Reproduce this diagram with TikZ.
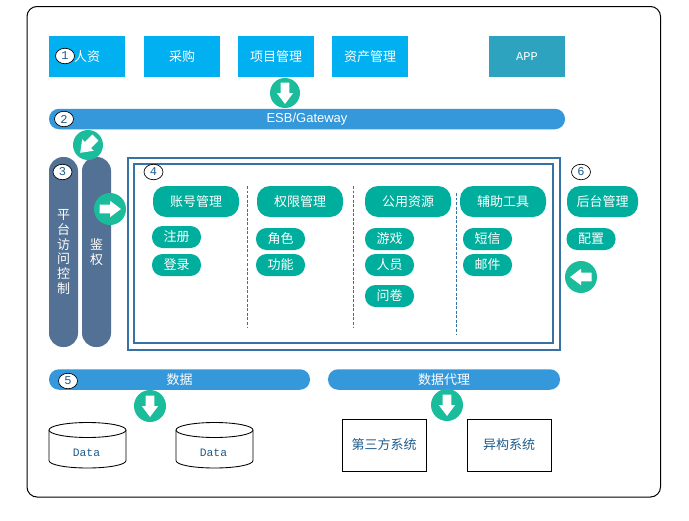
\documentclass[tikz,border=0pt]{standalone}
\usepackage{fontspec}
\setmainfont{Liberation Sans}
\newfontfamily\cjk{Noto Sans CJK SC}
\newfontfamily\monof{Liberation Mono}
\usetikzlibrary{shapes.geometric}
\definecolor{skyc}{HTML}{00B0F0}
\definecolor{appc}{HTML}{2EA3C0}
\definecolor{barc}{HTML}{3498DB}
\definecolor{iconc}{HTML}{1ABC9C}
\definecolor{tealc}{HTML}{00AE9D}
\definecolor{slatec}{HTML}{527194}
\definecolor{framec}{HTML}{3672A3}
\definecolor{inkc}{HTML}{1F5C8C}
\def\px{0.75pt}
\tikzset{
  x=0.75pt,y=-0.75pt,
  base/.style={inner sep=0pt,outer sep=0pt,font=\cjk\fontsize{9.75}{11}\selectfont},
  topbox/.style={base,fill=skyc,text=white,minimum width=76*\px,minimum height=41*\px},
  appbox/.style={topbox,fill=appc,font=\monof\fontsize{9}{10}\selectfont},
  busbar/.style={base,fill=barc,text=white,rounded corners=10*\px,minimum height=20.5*\px},
  sidebar/.style={base,fill=slatec,text=white,rounded corners=14*\px,minimum width=29*\px,minimum height=190*\px,align=center},
  head/.style={base,fill=tealc,text=white,rounded corners=13*\px,minimum width=86*\px,minimum height=31*\px},
  pill/.style={base,fill=tealc,text=white,rounded corners=10.5*\px,minimum width=49*\px,minimum height=22*\px},
  numc/.style={ellipse,draw=black,line width=0.5pt,fill=white,text=inkc,inner sep=0pt,minimum width=19*\px,minimum height=15.5*\px,font=\monof\fontsize{9}{10}\selectfont},
  iconbg/.style={circle,fill=iconc,inner sep=0pt,outer sep=0pt},
  sysbox/.style={base,draw=black,line width=0.75pt,fill=white,text=inkc,minimum width=84*\px,minimum height=52*\px},
  dbtext/.style={base,text=inkc,font=\monof\fontsize{8.5}{10}\selectfont},
  divider/.style={draw=framec,line width=0.6pt,dash pattern=on 2.2pt off 1.2pt},
  dblframe/.style={draw=framec,line width=1.5pt},
}
% name, x, y, rotation of a white arrow that points down before rotation, diameter
\newcommand{\arrowicon}[5]{%
  \node[iconbg,minimum size=#5*\px] (#1) at (#2,#3) {};
  \begin{scope}[shift={(#2,#3)},rotate=#4]
    \fill[white] (-4.3,-10.5) -- (4.3,-10.5) -- (4.3,0) -- (8.2,0) -- (0,11) -- (-8.2,0) -- (-4.3,0) -- cycle;
  \end{scope}}
% name, left x
\newcommand{\dbcyl}[2]{%
  \draw[black,line width=0.65pt,fill=white]
    (#2,430) -- (#2,460.5)
    .. controls (#2,465) and ({#2+18},468) .. ({#2+38.5},468)
    .. controls ({#2+59},468) and ({#2+77},465) .. ({#2+77},460.5)
    -- ({#2+77},430);
  \draw[black,line width=0.65pt,fill=white] ({#2+38.5},430) ellipse [x radius=38.5,y radius=7.5];
  \node[dbtext] (#1) at ({#2+37.5},453) {Data};}
\begin{document}
\begin{tikzpicture}
\useasboundingbox (0,0) rectangle (689,521);
\fill[white] (0,0) rectangle (689,521);
\draw[black,line width=0.75pt,rounded corners=7.5pt] (27,6.5) rectangle (660.5,497);

% top row
\node[topbox] (hr) at (87,56.5) {人资};
\node[topbox] (buy) at (182,56.5) {采购};
\node[topbox] (proj) at (276,56.5) {项目管理};
\node[topbox] (asset) at (370,56.5) {资产管理};
\node[appbox] (app) at (527,56.5) {APP};

% gateway
\node[busbar,minimum width=516*\px] (esb) at (307,119) {\raisebox{-1.2pt}{\fontspec{Liberation Sans}ESB/Gateway}};

% side bars
\node[sidebar] (acl) at (63.5,252) {平\\台\\访\\问\\控\\制};
\node[sidebar] (auth) at (96.5,252) {鉴\\权};

% core frame
\draw[dblframe] (127.5,157.5) rectangle (560,350);
\draw[dblframe] (133.5,163.5) rectangle (553,343);

% columns
\node[head] (acct) at (196,201.5) {账号管理};
\node[pill] (reg) at (176.5,237) {注册};
\node[pill] (login) at (176.5,265) {登录};
\node[head] (perm) at (300,201.5) {权限管理};
\node[pill] (role) at (280.5,239) {角色};
\node[pill] (func) at (280.5,265) {功能};
\node[head] (pub) at (408,201.5) {公用资源};
\node[pill] (game) at (389.5,239) {游戏};
\node[pill] (staff) at (389.5,265) {人员};
\node[pill] (quiz) at (389.5,296) {问卷};
\node[head] (tool) at (503,201.5) {辅助工具};
\node[pill] (sms) at (487.5,239) {短信};
\node[pill] (mail) at (487.5,265) {邮件};
\node[head,minimum width=71*\px] (admin) at (602.5,201.5) {后台管理};
\node[pill] (conf) at (591,239) {配置};

\coordinate (d1a) at (247.5,186); \coordinate (d1b) at (247.5,328);
\coordinate (d2a) at (353.5,186); \coordinate (d2b) at (353.5,328);
\coordinate (d3a) at (456.5,193); \coordinate (d3b) at (456.5,335);
\draw[divider] (d1a) -- (d1b);
\draw[divider] (d2a) -- (d2b);
\draw[divider] (d3a) -- (d3b);

% data bars
\node[busbar,minimum width=261*\px] (data) at (179.5,379.5) {数据};
\node[busbar,minimum width=232*\px] (proxy) at (444,379.5) {数据代理};

% stores
\dbcyl{db1}{49}
\dbcyl{db2}{176}
\node[sysbox] (third) at (384,445) {第三方系统};
\node[sysbox] (hetero) at (509,445) {异构系统};

% arrows
\arrowicon{a1}{285}{93}{0}{30}
\arrowicon{a2}{88}{145}{-45}{30}
\arrowicon{a3}{110}{209}{90}{32}
\arrowicon{a4}{581}{277}{-90}{32}
\arrowicon{a5}{150}{406}{0}{32}
\arrowicon{a6}{447}{405}{0}{32}

% numbers
\node[numc] (n1) at (65,56) {1};
\node[numc] (n2) at (64,119) {2};
\node[numc] (n3) at (62.5,172) {3};
\node[numc] (n4) at (153.5,172) {4};
\node[numc] (n5) at (68,381) {5};
\node[numc] (n6) at (581,172) {6};
\end{tikzpicture}
\end{document}
